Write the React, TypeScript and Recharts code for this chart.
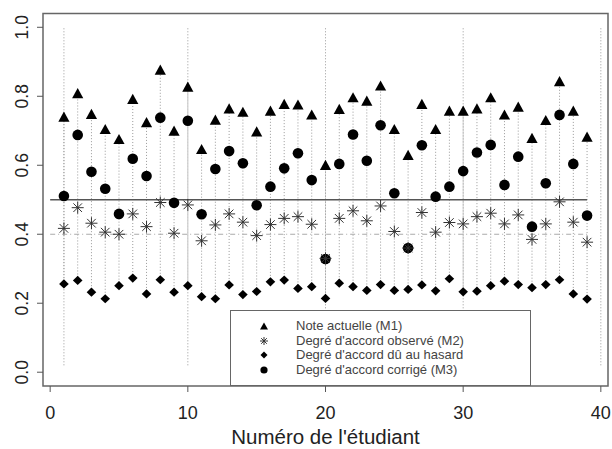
import React from 'react'
import { ReferenceArea, ReferenceLine, Scatter, ScatterChart, XAxis, YAxis } from 'recharts'

const students = [
  1, 2, 3, 4, 5, 6, 7, 8, 9, 10, 11, 12, 13, 14, 15, 16, 17, 18, 19, 20,
  21, 22, 23, 24, 25, 26, 27, 28, 29, 30, 31, 32, 33, 34, 35, 36, 37, 38, 39,
]

// Note actuelle (M1)
const m1 = [
  0.738, 0.806, 0.746, 0.702, 0.673, 0.789, 0.722, 0.874, 0.697, 0.825,
  0.644, 0.729, 0.762, 0.752, 0.695, 0.755, 0.775, 0.773, 0.744, 0.598,
  0.76, 0.794, 0.784, 0.828, 0.702, 0.627, 0.775, 0.702, 0.755, 0.755,
  0.762, 0.794, 0.744, 0.767, 0.676, 0.728, 0.841, 0.755, 0.68,
]

// Degré d'accord observé (M2)
const m2 = [
  0.417, 0.477, 0.432, 0.406, 0.4, 0.459, 0.422, 0.492, 0.403, 0.485,
  0.381, 0.427, 0.459, 0.435, 0.396, 0.428, 0.446, 0.451, 0.429, 0.33,
  0.446, 0.468, 0.439, 0.482, 0.408, 0.36, 0.463, 0.406, 0.434, 0.43,
  0.451, 0.461, 0.43, 0.456, 0.385, 0.43, 0.494, 0.435, 0.377,
]

// Degré d'accord dû au hasard
const hasard = [
  0.256, 0.266, 0.232, 0.213, 0.251, 0.273, 0.227, 0.268, 0.232, 0.251,
  0.219, 0.213, 0.253, 0.225, 0.234, 0.262, 0.267, 0.243, 0.248, 0.214,
  0.258, 0.248, 0.237, 0.254, 0.237, 0.24, 0.253, 0.236, 0.271, 0.233,
  0.235, 0.251, 0.264, 0.254, 0.245, 0.254, 0.268, 0.227, 0.212,
]

// Degré d'accord corrigé (M3)
const m3 = [
  0.511, 0.688, 0.581, 0.532, 0.459, 0.619, 0.569, 0.738, 0.491, 0.729,
  0.458, 0.589, 0.641, 0.606, 0.484, 0.538, 0.591, 0.635, 0.557, 0.328,
  0.604, 0.689, 0.613, 0.716, 0.519, 0.36, 0.658, 0.509, 0.538, 0.583,
  0.637, 0.659, 0.543, 0.625, 0.422, 0.548, 0.746, 0.604, 0.454,
]

const fullLines = [1, 10, 20, 30, 40]
const xTicks = [0, 10, 20, 30, 40]
const yTicks = [0, 0.2, 0.4, 0.6, 0.8, 1.0]
const legendLabels = [
  'Note actuelle (M1)',
  "Degré d'accord observé (M2)",
  "Degré d'accord dû au hasard",
  "Degré d'accord corrigé (M3)",
]

const FONT = '"Liberation Sans", Arial, Helvetica, sans-serif'

const pts = (vals: number[]) => students.map((s, i) => ({ x: s, y: vals[i] }))

const Triangle = (p: any) => (
  <polygon
    points={`${p.cx},${p.cy - 6.2} ${p.cx - 5.6},${p.cy + 4} ${p.cx + 5.6},${p.cy + 4}`}
    fill="#000"
  />
)
const Asterisk = (p: any) => {
  const { cx, cy } = p
  const r = 6
  const d = 4.3
  return (
    <g stroke="#333" strokeWidth={1}>
      <line x1={cx - r} y1={cy} x2={cx + r} y2={cy} />
      <line x1={cx} y1={cy - r} x2={cx} y2={cy + r} />
      <line x1={cx - d} y1={cy - d} x2={cx + d} y2={cy + d} />
      <line x1={cx - d} y1={cy + d} x2={cx + d} y2={cy - d} />
    </g>
  )
}
const Diamond = (p: any) => (
  <polygon
    points={`${p.cx},${p.cy - 4.6} ${p.cx + 4.8},${p.cy} ${p.cx},${p.cy + 4.6} ${p.cx - 4.8},${p.cy}`}
    fill="#000"
  />
)
const Dot = (p: any) => <circle cx={p.cx} cy={p.cy} r={5.3} fill="#000" />

const YTick = (p: any) => {
  const x0 = p.x - 7
  return (
    <text
      x={x0}
      y={p.y}
      transform={`rotate(-90, ${x0}, ${p.y})`}
      textAnchor="middle"
      fontSize={17.5}
      fontFamily={FONT}
      fill="#222"
    >
      {p.payload.value.toFixed(1)}
    </text>
  )
}

const XTick = (p: any) => (
  <text x={p.x} y={p.y + 25} textAnchor="middle" fontSize={18} fontFamily={FONT} fill="#222">
    {p.payload.value}
  </text>
)

const legendIcons = [
  <polygon key="a" points="5,1.5 9,8.5 1,8.5" fill="#000" />,
  <g key="b" stroke="#333" strokeWidth={1}>
    <line x1={1} y1={5} x2={9} y2={5} />
    <line x1={5} y1={1} x2={5} y2={9} />
    <line x1={2.2} y1={2.2} x2={7.8} y2={7.8} />
    <line x1={2.2} y1={7.8} x2={7.8} y2={2.2} />
  </g>,
  <polygon key="c" points="5,1.5 8.5,5 5,8.5 1.5,5" fill="#000" />,
  <circle key="d" cx={5} cy={5} r={3.6} fill="#000" />,
]

export default function App() {
  return (
    <div style={{ position: 'absolute', left: 0, top: 0, width: 612, height: 449, background: '#fff' }}>
      <ScatterChart width={612} height={449} margin={{ top: 13.5, right: 4, bottom: 0, left: 0 }}>
        <XAxis
          dataKey="x"
          type="number"
          domain={[-0.52, 40.52]}
          ticks={xTicks}
          allowDataOverflow
          axisLine={false}
          tickLine={{ stroke: '#555' }}
          tickSize={6}
          tick={<XTick />}
          height={63}
          label={{
            value: "Numéro de l'étudiant",
            position: 'insideBottom',
            offset: 5,
            fontSize: 20.5,
            fontFamily: FONT,
            fill: '#222',
          }}
        />
        <YAxis
          dataKey="y"
          type="number"
          domain={[-0.04, 1.04]}
          ticks={yTicks}
          allowDataOverflow
          axisLine={false}
          tickLine={{ stroke: '#555' }}
          tickSize={6}
          tick={<YTick />}
          width={43}
        />
        <ReferenceArea
          x1={-0.52}
          x2={40.52}
          y1={-0.04}
          y2={1.04}
          fill="none"
          stroke="#666"
          strokeWidth={1.5}
          ifOverflow="visible"
        />
        {fullLines.map((v) => (
          <ReferenceLine
            key={`f${v}`}
            segment={[
              { x: v, y: 0.02 },
              { x: v, y: 1.0 },
            ]}
            stroke="#999"
            strokeDasharray="1 2"
          />
        ))}
        {students.map((s, i) => (
          <ReferenceLine
            key={`s${s}`}
            segment={[
              { x: s, y: hasard[i] },
              { x: s, y: m1[i] },
            ]}
            stroke="#999"
            strokeDasharray="1 2"
          />
        ))}
        <ReferenceLine
          segment={[
            { x: 0, y: 0.5 },
            { x: 39, y: 0.5 },
          ]}
          stroke="#555"
          strokeWidth={1.5}
        />
        <ReferenceLine
          segment={[
            { x: 0, y: 0.4 },
            { x: 39, y: 0.4 },
          ]}
          stroke="#aaa"
          strokeWidth={1.2}
          strokeDasharray="5 3 1 3"
        />
        <Scatter data={pts(m1)} shape={<Triangle />} isAnimationActive={false} />
        <Scatter data={pts(hasard)} shape={<Diamond />} isAnimationActive={false} />
        <Scatter data={pts(m3)} shape={<Dot />} isAnimationActive={false} />
        <Scatter data={pts(m2)} shape={<Asterisk />} isAnimationActive={false} />
      </ScatterChart>
      <div
        style={{
          position: 'absolute',
          left: 230,
          top: 310,
          width: 301,
          height: 76,
          border: '1px solid #666',
          background: '#fff',
          boxSizing: 'border-box',
          paddingTop: 8,
          fontFamily: FONT,
          fontSize: 13,
          color: '#444',
        }}
      >
        {legendLabels.map((lab, i) => (
          <div key={lab} style={{ position: 'relative', height: 14.5, lineHeight: '14.5px' }}>
            <svg width={10} height={10} style={{ position: 'absolute', left: 28, top: 2.25 }}>
              {legendIcons[i]}
            </svg>
            <span style={{ position: 'absolute', left: 65, top: 0, whiteSpace: 'nowrap' }}>{lab}</span>
          </div>
        ))}
      </div>
    </div>
  )
}
